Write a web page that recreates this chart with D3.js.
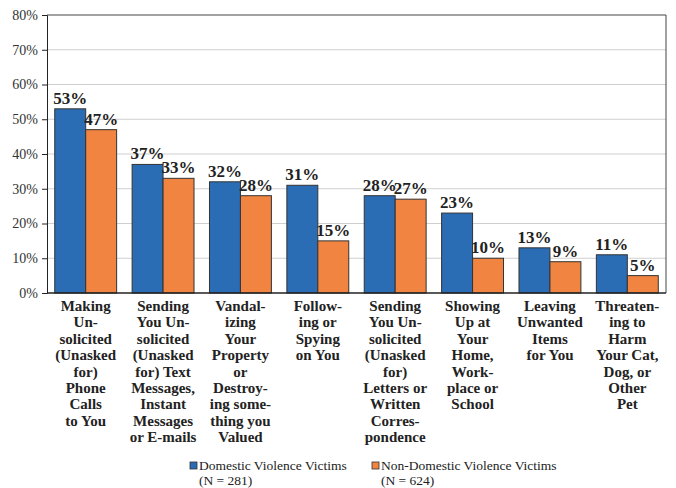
<!DOCTYPE html>
<html>
<head>
<meta charset="utf-8">
<script src="https://cdn.jsdelivr.net/npm/d3@7"></script>
<style>
  body { margin: 0; background: #fff; }
  text { font-family: "Liberation Serif", "DejaVu Serif", serif; }
</style>
</head>
<body>
<div id="chart"></div>
<script>
// categories, each one split into its label lines
const categories = [
  ["Making", "Un-", "solicited", "(Unasked", "for)", "Phone", "Calls", "to You"],
  ["Sending", "You Un-", "solicited", "(Unasked", "for) Text", "Messages,", "Instant", "Messages", "or E-mails"],
  ["Vandal-", "izing", "Your", "Property", "or", "Destroy-", "ing some-", "thing you", "Valued"],
  ["Follow-", "ing or", "Spying", "on You"],
  ["Sending", "You Un-", "solicited", "(Unasked", "for)", "Letters or", "Written", "Corres-", "pondence"],
  ["Showing", "Up at", "Your", "Home,", "Work-", "place or", "School"],
  ["Leaving", "Unwanted", "Items", "for You"],
  ["Threaten-", "ing to", "Harm", "Your Cat,", "Dog, or", "Other", "Pet"]
]
const domestic = [53, 37, 32, 31, 28, 23, 13, 11]
const nonDomestic = [47, 33, 28, 15, 27, 10, 9, 5]
const seriesNames = ["Domestic Violence Victims", "Non-Domestic Violence Victims"]
const seriesN = ["(N = 281)", "(N = 624)"]
const yTicks = [0, 10, 20, 30, 40, 50, 60, 70, 80]
const colors = ["#2a6db5", "#f08440"]

const width = 676, height = 488
const mLeft = 47, mRight = 666, mTop = 15, mBottom = 293

const svg = d3.select("#chart")
  .append("svg")
    .attr("width", width)
    .attr("height", height)

const x = d3.scaleBand()
  .domain(d3.range(categories.length))
  .range([mLeft, mRight])
  .paddingInner(0.2)
  .paddingOuter(0.1)

const xSeries = d3.scaleBand()
  .domain([0, 1])
  .range([0, x.bandwidth()])

const y = d3.scaleLinear()
  .domain([0, 80])
  .range([mBottom, mTop])

// gridlines
svg.append("g")
  .selectAll("line")
  .data(yTicks.slice(1, -1))
  .enter()
  .append("line")
    .attr("x1", mLeft)
    .attr("x2", mRight)
    .attr("y1", d => y(d))
    .attr("y2", d => y(d))
    .attr("stroke", "#cfcfcf")
    .attr("stroke-width", 1)

// frame top and right
svg.append("path")
  .attr("d", `M${mLeft},${mTop}H${mRight}V${mBottom}`)
  .attr("fill", "none")
  .attr("stroke", "#444")
  .attr("stroke-width", 1)

// y axis
const yAxis = svg.append("g")
  .attr("transform", `translate(${mLeft},0)`)
  .call(d3.axisLeft(y).tickValues(yTicks).tickFormat(d => d + "%").tickSize(5).tickPadding(4))
yAxis.select(".domain").attr("stroke", "#222")
yAxis.selectAll(".tick line").attr("stroke", "#222")
yAxis.selectAll(".tick text")
  .attr("font-size", 14)
  .attr("fill", "#333")
  .style("font-family", "'Liberation Serif', serif")

const data = []
for (var i = 0; i < categories.length; i++) {
  data.push({ cat: i, s: 0, v: domestic[i] })
  data.push({ cat: i, s: 1, v: nonDomestic[i] })
}

svg.append("g")
  .selectAll("rect")
  .data(data)
  .enter()
  .append("rect")
    .attr("x", d => x(d.cat) + xSeries(d.s))
    .attr("y", d => y(d.v))
    .attr("width", xSeries.bandwidth())
    .attr("height", d => y(0) - y(d.v))
    .attr("fill", d => colors[d.s])
    .attr("stroke", "#333")
    .attr("stroke-width", 1)

svg.append("g")
  .selectAll("text")
  .data(data)
  .enter()
  .append("text")
    .attr("x", d => x(d.cat) + xSeries(d.s) + xSeries.bandwidth() / 2)
    .attr("y", d => y(d.v) - 5)
    .attr("text-anchor", "middle")
    .attr("font-size", 17)
    .attr("font-weight", "bold")
    .attr("fill", "#222")
    .text(d => d.v + "%")

// bottom axis line
svg.append("line")
  .attr("x1", mLeft)
  .attr("x2", mRight)
  .attr("y1", mBottom)
  .attr("y2", mBottom)
  .attr("stroke", "#222")
  .attr("stroke-width", 1.5)

// category labels
const catText = svg.append("g")
  .selectAll("text")
  .data(categories)
  .enter()
  .append("text")
    .attr("x", (d, i) => x(i) + x.bandwidth() / 2)
    .attr("y", 311)
    .attr("text-anchor", "middle")
    .attr("font-size", 15)
    .attr("font-weight", "bold")
    .attr("fill", "#222")

catText.selectAll("tspan")
  .data(d => d)
  .enter()
  .append("tspan")
    .attr("x", function() { return this.parentNode.getAttribute("x") })
    .attr("dy", (d, i) => i === 0 ? 0 : 16.4)
    .text(d => d)

// legend
const legendX = [190, 372]
const legend = svg.append("g")
  .selectAll("g")
  .data(seriesNames)
  .enter()
  .append("g")
    .attr("transform", (d, i) => `translate(${legendX[i]},0)`)

legend.append("rect")
  .attr("x", 0)
  .attr("y", 462)
  .attr("width", 7)
  .attr("height", 7)
  .attr("fill", (d, i) => colors[i])
  .attr("stroke", "#333")
  .attr("stroke-width", 0.8)

legend.append("text")
  .attr("x", 9)
  .attr("y", 470)
  .attr("font-size", 13.5)
  .attr("fill", "#222")
  .text(d => d)

legend.append("text")
  .attr("x", 9)
  .attr("y", 485)
  .attr("font-size", 13.5)
  .attr("fill", "#222")
  .text((d, i) => seriesN[i])
</script>
</body>
</html>
